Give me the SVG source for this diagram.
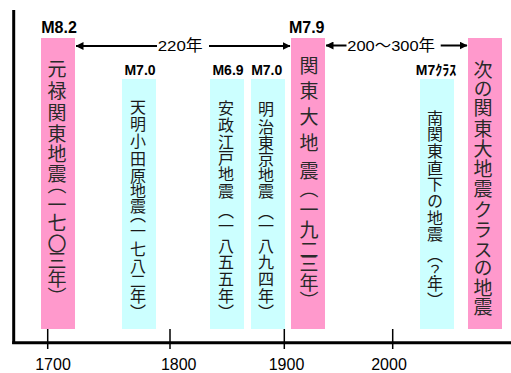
<svg xmlns="http://www.w3.org/2000/svg" width="511" height="373" viewBox="0 0 511 373">
<defs>
<style>
.pink{fill:#FF99CC}
.cyan{fill:#CCFFFF}
.mag{font-family:"Liberation Sans","Noto Sans CJK JP",sans-serif;font-weight:bold;text-anchor:middle;fill:#000}
.magL{font-size:16px}
.magS{font-size:14px}
.vt{font-family:"Noto Sans CJK JP",sans-serif;writing-mode:vertical-rl;fill:#1a1a1a}
.vtL{font-size:19px;fill:#2a2a2a}
.vtS{font-size:16px}
.yr{font-family:"Liberation Sans",sans-serif;font-size:16px;text-anchor:middle;fill:#000}
.span{font-family:"Liberation Sans","Noto Sans CJK JP",sans-serif;font-size:15.5px;fill:#000}
.conn{stroke:#000;stroke-width:2;fill:none}
.axis{stroke:#000;stroke-width:3;fill:none}
.tick{stroke:#000;stroke-width:1.5}
</style>
<marker id="ah" viewBox="0 0 8 8" refX="7.5" refY="4" markerWidth="8" markerHeight="8" markerUnits="userSpaceOnUse" orient="auto">
<path d="M0,0 L8,4 L0,8 Z" fill="#000"/>
</marker>
</defs>
<rect width="511" height="373" fill="#fff"/>
<g id="axis">
<line class="axis" x1="13.7" y1="10" x2="13.7" y2="344"/>
<line class="axis" x1="12.2" y1="342.7" x2="511" y2="342.7"/>
<line class="tick" x1="47.7" y1="329" x2="47.7" y2="349"/>
<line class="tick" x1="170" y1="329" x2="170" y2="349"/>
<line class="tick" x1="284.3" y1="329" x2="284.3" y2="349"/>
<line class="tick" x1="392.7" y1="329" x2="392.7" y2="349"/>
<text class="yr" x="53" y="369.8">1700</text>
<text class="yr" x="178.7" y="369.8">1800</text>
<text class="yr" x="286.5" y="369.8">1900</text>
<text class="yr" x="389" y="369.8">2000</text>
</g>
<g id="genroku">
<rect class="pink" x="41" y="38" width="34" height="291"/>
<text class="mag magL" x="59" y="33.3">M8.2</text>
<text class="vt vtL" x="57" y="59.5 81.5 103 124.5 144.5 164.5 175 195.5 213.5 234 251.5 269 287.6">元禄関東地震（一七〇三年）</text>
</g>
<g id="tenmei">
<rect class="cyan" x="122" y="79" width="34" height="250"/>
<text class="mag magS" x="140" y="75">M7.0</text>
<text class="vt vtS" x="138" y="98.7 116 133 151 168 183 198 207.3 223 241 257.5 272.5 288 303.7">天明小田原地震（一七八二年）</text>
</g>
<g id="ansei">
<rect class="cyan" x="210" y="79" width="34" height="250"/>
<text class="mag magS" x="228" y="75">M6.9</text>
<text class="vt vtS" x="226" y="99.5 117 133.7 149.5 166 182.7 202.8 218 238 254 271 288 303.7">安政江戸地震（一八五五年）</text>
</g>
<g id="meiji">
<rect class="cyan" x="251" y="79" width="34" height="250"/>
<text class="mag magS" x="266.7" y="75">M7.0</text>
<text class="vt vtS" x="266" y="101 119 134.5 151 167 183 203.8 218 238 254 271 288 303.7">明治東京地震（一八九四年）</text>
</g>
<g id="kanto">
<rect class="pink" x="291" y="38" width="34" height="291"/>
<text class="mag magL" x="306.7" y="33.3">M7.9</text>
<text class="vt vtL" x="309" y="56.5 81.5 107.2 133.5 161.5 179.7 200 220.5 240.5 254.5 273 291.3">関東大地震（一九二三年）</text>
</g>
<g id="minami-kanto">
<rect class="cyan" x="420" y="79" width="34" height="250"/>
<text class="mag magS" x="436" y="75">M7ｸﾗｽ</text>
<text class="vt vtS" x="435" y="109.5 126 142.7 159.5 176 193 209.5 226 247.1 263 276 291.7">南関東直下の地震（？年）</text>
</g>
<g id="next-kanto">
<rect class="pink" x="468" y="38" width="34" height="291"/>
<text class="vt vtL" x="483" y="60.5 79.5 98.5 119.5 139.5 159.5 179.5 200.5 220.5 240.5 258.5 278.5 297.5">次の関東大地震クラスの地震</text>
</g>
<g id="connectors">
<line class="conn" x1="157" y1="46" x2="76" y2="46" marker-end="url(#ah)"/>
<line class="conn" x1="209" y1="46" x2="290" y2="46" marker-end="url(#ah)"/>
<text class="span" x="157.7" y="51" textLength="45" lengthAdjust="spacingAndGlyphs">220年</text>
<line class="conn" x1="346.5" y1="45.5" x2="326" y2="45.5" marker-end="url(#ah)"/>
<line class="conn" x1="440.7" y1="45.5" x2="467" y2="45.5" marker-end="url(#ah)"/>
<text class="span" x="347.3" y="51" textLength="87.7" lengthAdjust="spacingAndGlyphs">200～300年</text>
</g>
</svg>
